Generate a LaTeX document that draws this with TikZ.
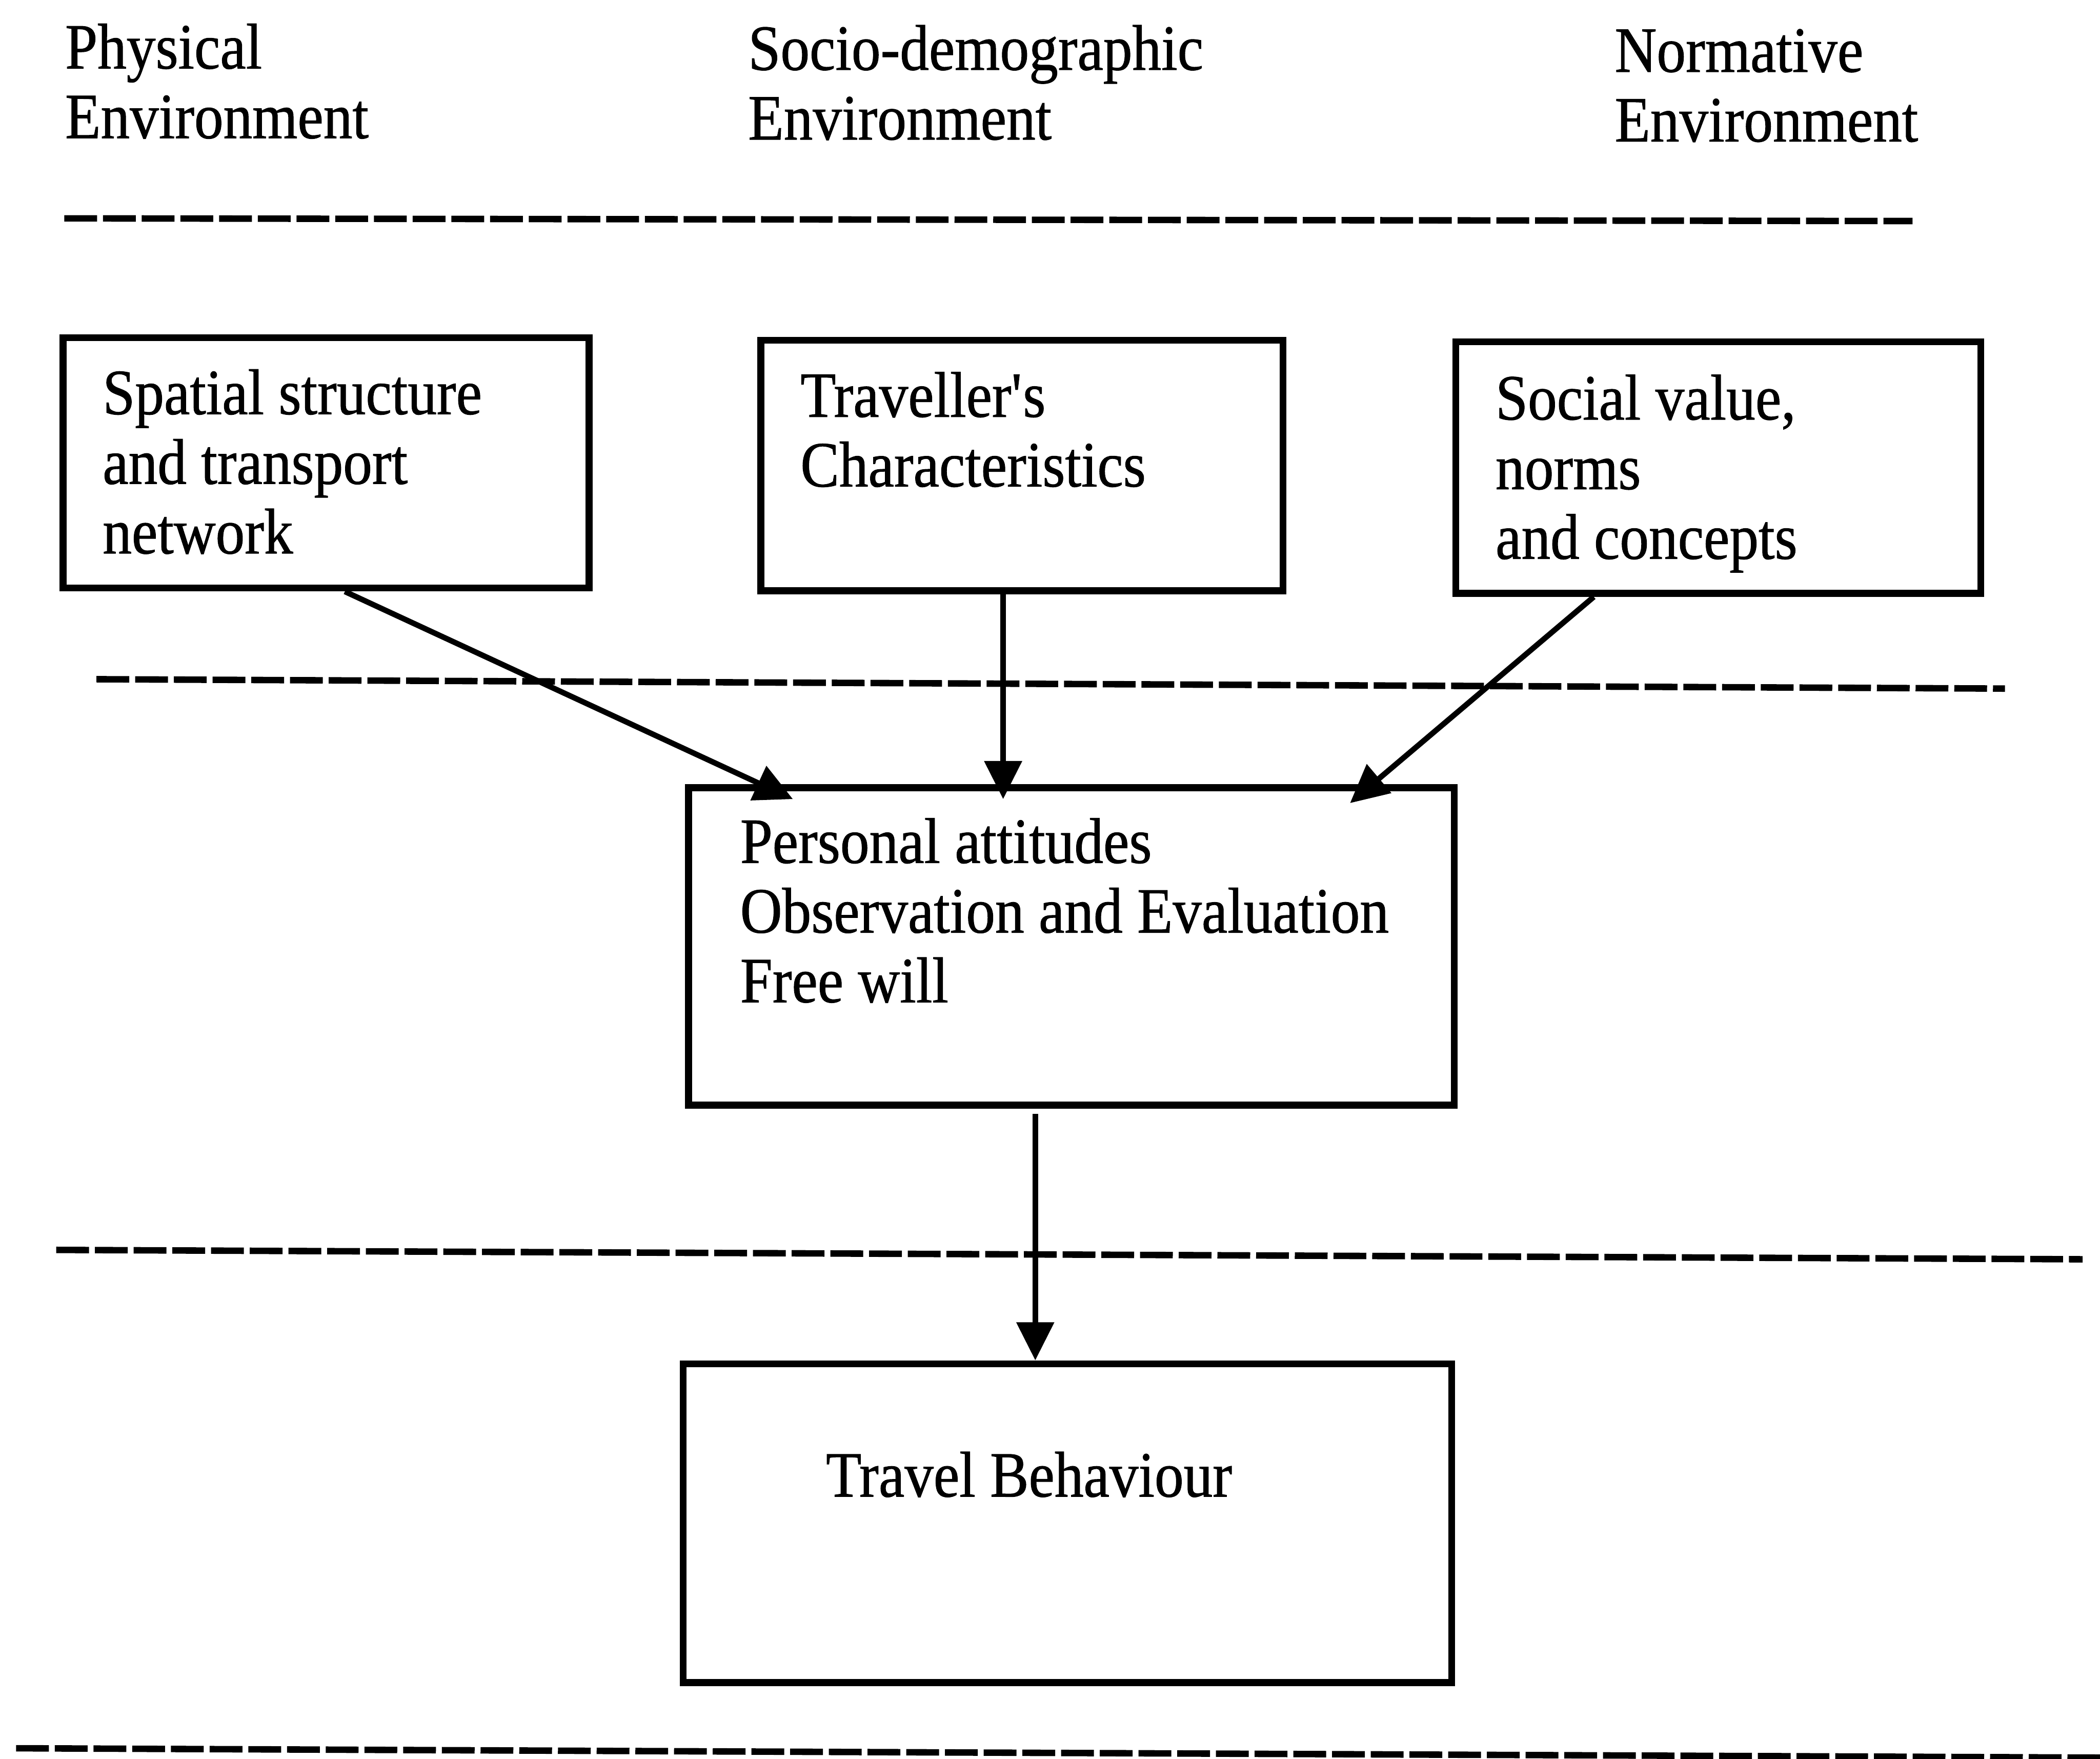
\documentclass[tikz,border=0pt]{standalone}
\usepackage{fontspec}
\setmainfont{Liberation Serif}[FakeStretch=0.9,FakeBold=0.8]
\usetikzlibrary{positioning,calc,arrows.meta}

\begin{document}
\begin{tikzpicture}[x=0.0102041cm,y=-0.0102041cm,
  box/.style={rectangle,draw,line width=1.5pt,inner sep=0pt},
  txt/.style={anchor=north west,inner sep=0pt,align=left,font=\fontsize{14}{15.1}\selectfont},
  arr/.style={-{Triangle[length=2.9mm,width=2.8mm]},line width=1.2pt},
  sepline/.style={line width=1.4pt,dash pattern=on 0.25cm off 0.045cm}]
\useasboundingbox (0,0) rectangle (1568,1313);

% headings
\node[txt] (physical) at (48,17) {Physical\\Environment};
\node[txt] (socio) at (558,18) {Socio-demographic\\Environment};
\node[txt] (normative) at (1205,21) {Normative\\Environment};

% separators
\draw[sepline] (48,163) -- (1428,165);
\draw[sepline] (72,507) -- (1497,514);
\draw[sepline] (42,933) -- (1555,940);
\draw[sepline] (12,1305) -- (1568,1312);

% boxes
\node[box,minimum width=4.01cm,minimum height=1.908cm] (spatial) at (243.5,345.5) {};
\node[txt] (spatialtxt) at (76,275) {Spatial structure\\and transport\\network};
\node[box,minimum width=3.98cm,minimum height=1.908cm] (traveller) at (763,347.5) {};
\node[txt] (travellertxt) at (597,277) {Traveller\textquotesingle s\\Characteristics};
\node[box,minimum width=4.0cm,minimum height=1.918cm] (social) at (1283,349) {};
\node[txt] (socialtxt) at (1116,279) {Social value,\\norms\\and concepts};
\node[box,minimum width=5.837cm,minimum height=2.418cm] (attitudes) at (800,706.5) {};
\node[txt] (attitudestxt) at (552,610) {Personal attitudes\\Observation and Evaluation\\Free will};
\node[box,minimum width=5.857cm,minimum height=2.429cm] (behaviour) at (797,1137) {};
\node[txt] (behaviourtxt) at (616,1083) {Travel Behaviour};

% arrows
\draw[arr] ($(spatial.south)+(14,0)$) -- ($(attitudes.north)+(-208,11)$);
\draw[arr] ($(traveller.south)+(-14,0)$) -- ($(attitudes.north)+(-51,11)$);
\draw[arr] ($(social.south)+(-93,0)$) -- ($(attitudes.north)+(208,14)$);
\draw[arr] ($(attitudes.south)+(-27,4)$) -- ($(behaviour.north)+(-24,0)$);
\end{tikzpicture}
\end{document}
